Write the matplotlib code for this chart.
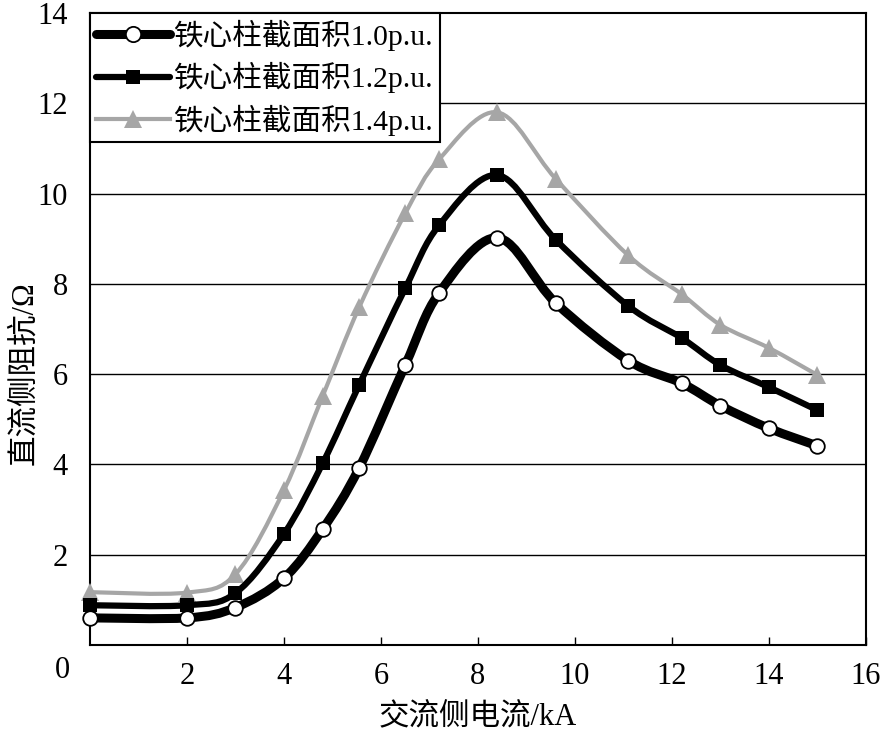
import numpy as np
import matplotlib.pyplot as plt
from matplotlib.path import Path
from matplotlib.patches import PathPatch
from matplotlib.lines import Line2D

plt.rcParams['font.family'] = ['Liberation Serif', 'Noto Sans CJK SC']

# AC side current (kA)
current = [0, 2, 3, 4, 4.8, 5.55, 6.5, 7.2, 8.4, 9.6, 11.1, 12.2, 13, 14, 15]
# DC side impedance (ohm) for three core-limb cross sections
z_10 = [0.6, 0.6, 0.83, 1.48, 2.57, 3.92, 6.2, 7.8, 9.02, 7.58, 6.3, 5.8, 5.3, 4.8, 4.41]
z_12 = [0.88, 0.88, 1.15, 2.46, 4.03, 5.76, 7.9, 9.3, 10.41, 8.98, 7.51, 6.8, 6.2, 5.71, 5.2]
z_14 = [1.17, 1.16, 1.57, 3.43, 5.52, 7.48, 9.56, 10.76, 11.8, 10.33, 8.63, 7.77, 7.09, 6.58, 5.98]

labels = ['铁心柱截面积1.0p.u.', '铁心柱截面积1.2p.u.', '铁心柱截面积1.4p.u.']
gray = '#a6a6a6'


# Smoothed curve through the points (bezier segments, like a spreadsheet "smooth line")
def smooth_path(x, y):
    p = np.column_stack([x, y]).astype(float)
    n = len(p)
    verts = [p[0]]
    codes = [Path.MOVETO]
    for i in range(n - 1):
        p0 = p[i - 1] if i > 0 else p[i]
        p3 = p[i + 2] if i + 2 < n else p[i + 1]
        c1 = p[i] + (p[i + 1] - p0) / 6.0
        c2 = p[i + 1] - (p3 - p[i]) / 6.0
        verts += [c1, c2, p[i + 1]]
        codes += [Path.CURVE4] * 3
    return Path(verts, codes)


fig = plt.figure(figsize=(8.84, 7.32), dpi=100)
ax = fig.add_axes([0.1018, 0.1189, 0.8778, 0.8633])

series = [
    (z_14, dict(color=gray, lw=3.0), dict(marker='^', ms=13, mfc=gray, mec=gray, mew=0)),
    (z_12, dict(color='black', lw=4.5), dict(marker='s', ms=10, mfc='black', mec='black', mew=0)),
    (z_10, dict(color='black', lw=6.5), dict(marker='o', ms=10.5, mfc='white', mec='black', mew=1.3)),
]
for k, (vals, lstyle, mstyle) in enumerate(series):
    patch = PathPatch(smooth_path(current, vals), facecolor='none', edgecolor=lstyle['color'],
                      lw=lstyle['lw'], capstyle='round', joinstyle='round', zorder=3 + k)
    ax.add_patch(patch)
    ax.plot(current, vals, linestyle='none', zorder=3.5 + k, clip_on=False, **mstyle)

ax.set_xlim(0, 16)
ax.set_ylim(0, 14)
ax.set_xticks(range(2, 17, 2))
ax.set_yticks(range(2, 15, 2))
ax.tick_params(axis='x', direction='in', length=6, width=1, pad=12, labelsize=22)
ax.tick_params(axis='y', length=0, pad=16, labelsize=22)
ax.text(-0.036, -0.04, '0', transform=ax.transAxes, fontsize=22, ha='center', va='center')

for yv in range(2, 13, 2):
    ax.axhline(yv, color='black', lw=1.0, zorder=1)
for s in ax.spines.values():
    s.set_linewidth(1.5)
    s.set_color('black')

ax.set_xlabel('交流侧电流/kA', fontsize=22, labelpad=9)
ax.set_ylabel('直流侧阻抗/Ω', fontsize=22)
ax.yaxis.set_label_coords(-0.066, 0.43)

handles = [
    Line2D([], [], color='black', lw=6.5, solid_capstyle='round', marker='o', ms=11,
           mfc='white', mec='black', mew=1.3),
    Line2D([], [], color='black', lw=4.5, solid_capstyle='round', marker='s', ms=10,
           mfc='black', mec='black', mew=0),
    Line2D([], [], color=gray, lw=3.0, marker='^', ms=13, mfc=gray, mec=gray, mew=0),
]
leg = ax.legend(handles, labels, loc='upper left', bbox_to_anchor=(0, 1), borderaxespad=0,
                fontsize=21.3, fancybox=False, edgecolor='black', framealpha=1,
                handlelength=2.5, handletextpad=0.1, labelspacing=0.38, borderpad=0.22)
leg.get_frame().set_linewidth(1.5)
leg.set_zorder(10)

fig.savefig('out.png', dpi=100)
